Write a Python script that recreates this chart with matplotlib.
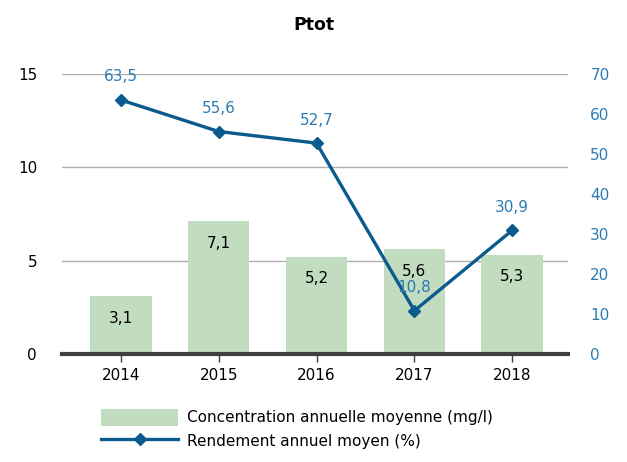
import matplotlib.pyplot as plt

# donnees
annees = ["2014", "2015", "2016", "2017", "2018"]
concentration = [3.1, 7.1, 5.2, 5.6, 5.3]
rendement = [63.5, 55.6, 52.7, 10.8, 30.9]

vert = "#c2dcbf"
bleu = "#0b5b8e"
bleu_txt = "#2b7bb3"

fig = plt.figure(figsize=(6.27, 4.62), dpi=100)
ax = fig.add_axes([0.099, 0.234, 0.807, 0.606])
ax2 = ax.twinx()

x = list(range(len(annees)))
barres = ax.bar(x, concentration, width=0.63, color=vert, zorder=2,
                label="Concentration annuelle moyenne (mg/l)")
for xi, v in zip(x, concentration):
    ax.annotate(f"{v:.1f}".replace(".", ","), (xi, v), xytext=(0, -22),
                textcoords="offset pixels", ha="center", va="center",
                fontsize=11, color="black", zorder=3)

ligne, = ax2.plot(x, rendement, color=bleu, lw=2.4, marker="D", ms=6,
                  label="Rendement annuel moyen (%)", zorder=4)
for xi, v in zip(x, rendement):
    ax2.annotate(f"{v:.1f}".replace(".", ","), (xi, v), xytext=(0, 23),
                 textcoords="offset pixels", ha="center", va="center",
                 fontsize=11, color=bleu_txt, zorder=5)

ax.set_xlim(-0.6, 4.57)
ax.set_ylim(0, 15)
ax2.set_ylim(0, 70)
ax.set_yticks([0, 5, 10, 15])
ax2.set_yticks(range(0, 71, 10))
ax.set_xticks(x)
ax.set_xticklabels(annees)

# grille
for yv in [5, 10, 15]:
    ax.axhline(yv, color="#b0b0b0", lw=1.0, zorder=1)

for s in ["top", "left", "right"]:
    ax.spines[s].set_visible(False)
    ax2.spines[s].set_visible(False)
ax2.spines["bottom"].set_visible(False)
ax.spines["bottom"].set_color("#404040")
ax.spines["bottom"].set_linewidth(3)
ax.spines["bottom"].set_zorder(6)

ax.tick_params(axis="y", length=0, labelsize=11, pad=18, colors="black")
ax2.tick_params(axis="y", length=0, labelsize=11, pad=16, labelcolor=bleu_txt)
ax.tick_params(axis="x", length=6, width=1, color="#404040", labelsize=11, pad=4)

fig.text(0.5, 0.945, "Ptot", ha="center", va="center", fontsize=12.5, fontweight="bold")

fig.legend(handles=[barres, ligne], loc="upper left",
           bbox_to_anchor=(0.152, 0.128), frameon=False, fontsize=11,
           handlelength=5.0, handleheight=1.3, labelspacing=0.45,
           borderaxespad=0, handletextpad=0.6)

fig.savefig("out.png", dpi=100)
